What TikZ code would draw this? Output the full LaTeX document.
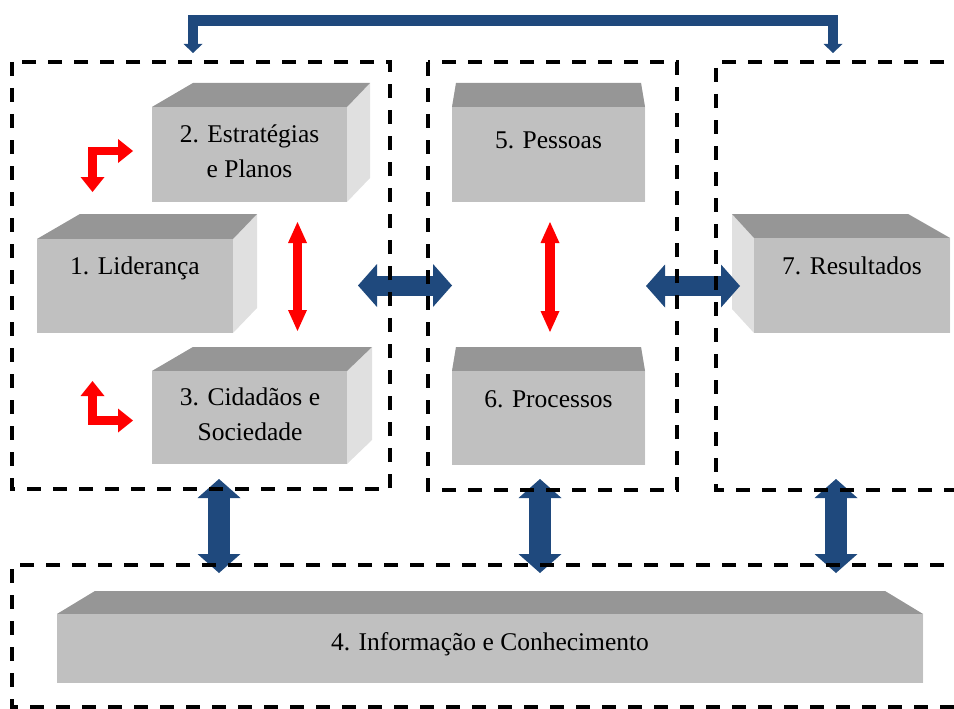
\documentclass[tikz,border=0pt]{standalone}
\usepackage{fontspec}
\setmainfont{Liberation Serif}
\usetikzlibrary{arrows.meta}
\definecolor{frontgray}{RGB}{192,192,192}
\definecolor{topgray}{RGB}{150,150,150}
\definecolor{sidegray}{RGB}{224,224,224}
\definecolor{linkblue}{RGB}{31,73,125}
\definecolor{linkred}{RGB}{255,0,0}

% A solid block: front face (x1,y1)-(x2,y2), back edge shifted up by dy,
% its left end moved by dl and its right end by dr.
\newcommand\solidblock[8]{%
  \fill[sidegray] (#4,#3) -- ({#4+#7},{#3-#8}) -- ({#4+#7},{#5-#8}) -- (#4,#5) -- cycle;
  \fill[sidegray] (#2,#3) -- ({#2+#6},{#3-#8}) -- ({#2+#6},{#5-#8}) -- (#2,#5) -- cycle;
  \fill[topgray] (#2,#3) -- (#4,#3) -- ({#4+#7},{#3-#8}) -- ({#2+#6},{#3-#8}) -- cycle;
  \node[frontface, minimum width={#4-#2}, minimum height={#5-#3}] (#1) at (#2,#3) {};
}

\begin{document}
\begin{tikzpicture}[x=1pt,y=-1pt,
  frontface/.style={fill=frontgray, draw=none, inner sep=0pt, outer sep=0pt, anchor=north west},
  blocktext/.style={font=\fontsize{25.5}{34.5}\selectfont, align=center, inner sep=0pt, anchor=base},
  zone/.style={draw=black, line width=3.5pt, dash pattern=on 14pt off 12pt},
  bluehead/.style={Triangle[length=19pt, width=43pt, line width=0pt]},
  bluelink/.style={draw=linkblue, line width=#1, {Triangle[length=19pt, width=43pt, line width=0pt]}-{Triangle[length=19pt, width=43pt, line width=0pt]}},
  redlink/.style={draw=linkred, line width=9.5pt, {Triangle[length=21pt, width=19pt, line width=0pt]}-{Triangle[length=21pt, width=19pt, line width=0pt]}},
  redbent/.style={draw=linkred, line width=8.5pt, line join=miter, {Triangle[length=15pt, width=24pt, line width=0pt]}-{Triangle[length=15pt, width=24pt, line width=0pt]}},
  toplink/.style={draw=linkblue, line width=10.5pt, line join=miter, {Triangle[length=9pt, width=19pt, line width=0pt]}-{Triangle[length=9pt, width=19pt, line width=0pt]}}
]
\useasboundingbox (0,0) rectangle (954,709);
\clip (0,0) rectangle (954,709);

% blocks
\solidblock{lead}{37}{239}{233}{333}{43}{24}{25}
\solidblock{strat}{152}{107}{347}{202}{41}{23}{24}
\solidblock{citiz}{152}{371}{347}{464}{41}{25}{24}
\solidblock{people}{452}{107}{645}{202}{4}{-4}{24}
\solidblock{proc}{452}{371}{645}{465}{4}{-4}{24}
\solidblock{result}{754}{238}{950}{333}{-22}{-42}{24}
\solidblock{info}{57}{614}{923}{683}{38}{-38}{23}

% block labels
\node[blocktext] (lead-t)   at (135,274) {1. Liderança};
\node[blocktext] (strat-t)  at (249.5,177) {2. Estratégias\\e Planos};
\node[blocktext] (citiz-t)  at (250,440) {3. Cidadãos e\\Sociedade};
\node[blocktext] (people-t) at (548.5,148) {5. Pessoas};
\node[blocktext] (proc-t)   at (548.5,407) {6. Processos};
\node[blocktext] (result-t) at (852,274) {7. Resultados};
\node[blocktext] (info-t)   at (490,650) {4. Informação e Conhecimento};

% connector end points
\coordinate (hl1) at (358,285.5);  \coordinate (hr1) at (452,285.5);
\coordinate (hl2) at (646,286);    \coordinate (hr2) at (740,286);
\coordinate (va1) at (219,479);    \coordinate (vb1) at (219,573);
\coordinate (va2) at (540,479);    \coordinate (vb2) at (540,573);
\coordinate (va3) at (836,479);    \coordinate (vb3) at (836,573);
\coordinate (ra1) at (297.5,222);  \coordinate (rb1) at (297.5,331);
\coordinate (ra2) at (550,222);    \coordinate (rb2) at (550,332);
\coordinate (bd1) at (92.5,192);   \coordinate (bk1) at (92.5,151);   \coordinate (br1) at (133,151);
\coordinate (bu2) at (92.5,381);   \coordinate (bk2) at (92.5,420.5); \coordinate (br2) at (133,420.5);
\coordinate (tl) at (193,53);      \coordinate (tm) at (513,20.5);    \coordinate (tr) at (833,53);

% blue links
\draw[bluelink=20pt] (hl1) -- (hr1);
\draw[bluelink=20pt] (hl2) -- (hr2);
\draw[bluelink=22pt] (va1) -- (vb1);
\draw[bluelink=22pt] (va2) -- (vb2);
\draw[bluelink=22pt] (va3) -- (vb3);
\draw[toplink] (tl) |- (tm) -| (tr);

% red links
\draw[redlink] (ra1) -- (rb1);
\draw[redlink] (ra2) -- (rb2);
\draw[redbent] (bd1) -- (bk1) -- (br1);
\draw[redbent] (bu2) -- (bk2) -- (br2);

% dashed zones
\draw[zone] (12,62) rectangle (390,489);
\draw[zone] (428,62) rectangle (677,490);
\draw[zone] (970,62) -- (716,62) -- (716,490) -- (970,490);
\draw[zone] (970,565) -- (12,565) -- (12,707) -- (970,707);
\end{tikzpicture}
\end{document}
